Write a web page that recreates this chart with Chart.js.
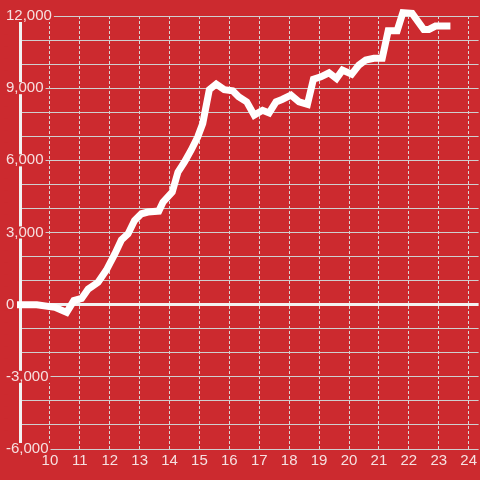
<!DOCTYPE html>
<html>
<head>
<meta charset="utf-8">
<script src="https://cdn.jsdelivr.net/npm/chart.js@4/dist/chart.umd.min.js"></script>
<style>
  html, body { margin: 0; padding: 0; background: #cc2a2f; }
  #wrap { width: 480px; height: 480px; position: relative; }
</style>
</head>
<body>
<div id="wrap"><canvas id="c"></canvas></div>
<script>
// x positions of the points (axis units)
const xValues = [8.9, 9.56, 10.17, 10.56, 10.8, 11.06, 11.28, 11.61, 11.89, 12.17, 12.39, 12.61, 12.83, 13.06, 13.28, 13.64, 13.78, 14.09, 14.28, 14.5, 14.72, 14.94, 15.11, 15.33, 15.56, 15.83, 16.11, 16.31, 16.58, 16.83, 17.11, 17.33, 17.56, 17.76, 18.06, 18.33, 18.61, 18.81, 19.06, 19.33, 19.58, 19.78, 20.09, 20.33, 20.56, 20.83, 21.11, 21.31, 21.61, 21.8, 22.11, 22.5, 22.67, 22.89, 23.39];
// series values
const seriesValues = [0, 0, -110, -320, 170, 260, 650, 930, 1440, 2110, 2690, 2940, 3500, 3780, 3850, 3890, 4260, 4680, 5510, 5930, 6420, 6970, 7530, 8940, 9170, 8940, 8890, 8640, 8430, 7880, 8080, 7970, 8430, 8530, 8710, 8430, 8330, 9370, 9470, 9640, 9400, 9750, 9580, 9960, 10170, 10240, 10240, 11390, 11390, 12140, 12110, 11440, 11440, 11580, 11580];
// tick labels
const xTicks = [10, 11, 12, 13, 14, 15, 16, 17, 18, 19, 20, 21, 22, 23, 24];
const yLabelTicks = [-6000, -3000, 0, 3000, 6000, 9000, 12000];

const BG = '#cc2a2f';
const TEXT = '#f6e0e0';

new Chart(document.getElementById('c'), {
  type: 'line',
  data: {
    datasets: [{
      data: xValues.map((x, i) => ({ x: x, y: seriesValues[i] })),
      borderColor: '#ffffff',
      borderWidth: 7,
      pointRadius: 0,
      tension: 0,
      fill: false,
      clip: false,
      borderJoinStyle: 'miter'
    }]
  },
  options: {
    responsive: true,
    maintainAspectRatio: false,
    animation: false,
    layout: { padding: { left: 6, top: 16, right: 0, bottom: 7 } },
    plugins: { legend: { display: false }, tooltip: { enabled: false } },
    scales: {
      x: {
        type: 'linear',
        min: 9,
        max: 24.333,
        afterBuildTicks: (scale) => { scale.ticks = xTicks.map(v => ({ value: v })); },
        grid: {
          color: '#d8d8d8',
          lineWidth: 1,
          drawTicks: false
        },
        border: { display: false, dash: [3, 2] },
        ticks: {
          color: TEXT,
          padding: 3,
          font: { family: "'Liberation Sans', Arial, sans-serif", size: 15 },
          maxRotation: 0,
          autoSkip: false,
          callback: (v) => String(v)
        }
      },
      y: {
        type: 'linear',
        min: -6000,
        max: 12000,
        afterFit: (scale) => {
          scale.width = 14;
          scale._computeLabelArea = function () { return undefined; };
        },
        grid: {
          color: (ctx) => (ctx.tick && ctx.tick.value === 0) ? '#f2f2f2' : '#cfcfcf',
          lineWidth: (ctx) => (ctx.tick && ctx.tick.value === 0) ? 3 : 1,
          drawTicks: false
        },
        border: { display: true, color: '#f2f2f2', width: 3 },
        ticks: {
          stepSize: 1000,
          crossAlign: 'far',
          padding: 0,
          color: TEXT,
          font: { family: "'Liberation Sans', Arial, sans-serif", size: 15 },
          showLabelBackdrop: true,
          backdropColor: BG,
          backdropPadding: { top: -3, bottom: -3, left: 2, right: 2 },
          callback: (v) => yLabelTicks.includes(v) ? v.toLocaleString('en-US') : ''
        }
      }
    }
  }
});
</script>
</body>
</html>
